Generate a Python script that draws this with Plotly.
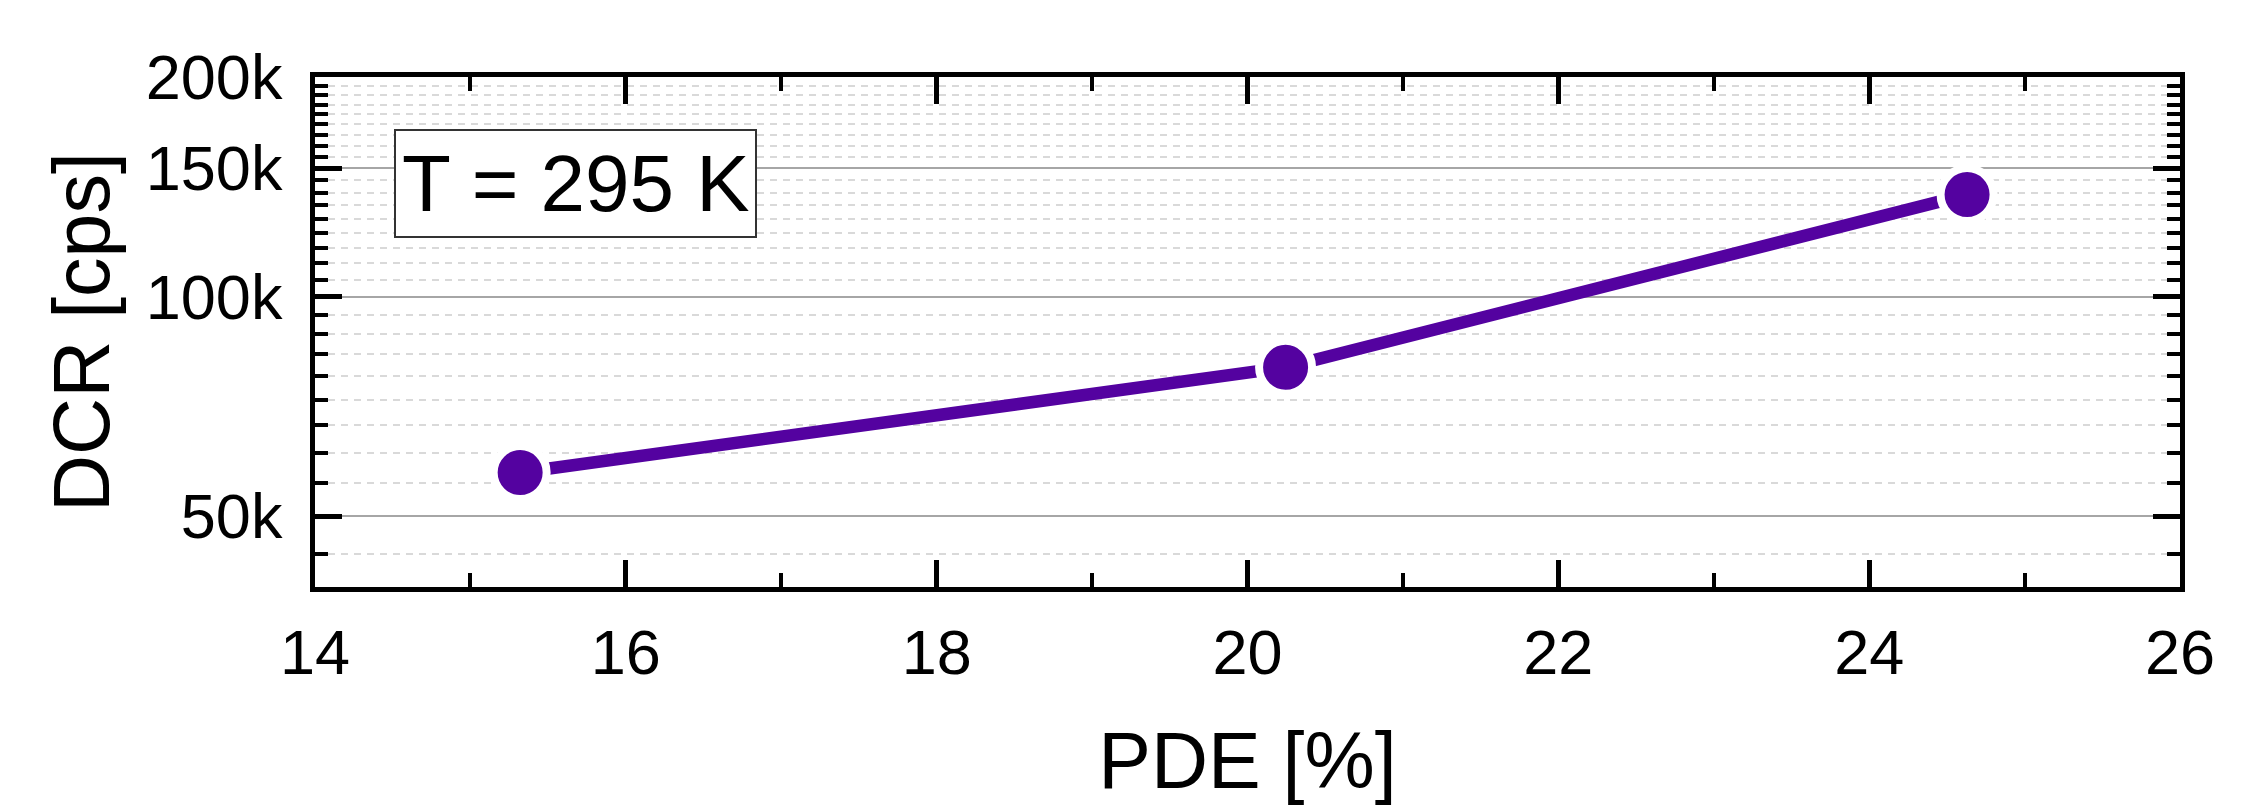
import plotly.graph_objects as go

# Data
pde = [15.32, 20.245, 24.63]
dcr = [57400, 80000, 138000]

x_ticks = [14, 16, 18, 20, 22, 24, 26]
y_ticks = [50000, 100000, 150000, 200000]
y_ticktext = ["50k", "100k", "150k", "200k"]
y_minor_step = 50000 / 9
y_minor = [50000 + i * y_minor_step for i in range(-1, 28) if i % 9 != 0]

FONT = "Liberation Sans, Arial, sans-serif"
COLOR = "#5402A0"

fig = go.Figure()
fig.add_trace(go.Scatter(
    x=pde, y=dcr, mode="lines+markers",
    line=dict(color=COLOR, width=12.5),
    marker=dict(color=COLOR, size=53, line=dict(color="white", width=8)),
    showlegend=False,
))

W, H = 2255, 805
L, R, T, B = 315, 2180, 77, 587

fig.update_layout(
    width=W, height=H,
    margin=dict(l=L, r=W - R, t=T, b=H - B, pad=0, autoexpand=False),
    plot_bgcolor="white", paper_bgcolor="white",
    font=dict(family=FONT, color="black", size=63),
)

fig.update_xaxes(
    automargin=False,
    range=[14, 26], tickvals=x_ticks, ticktext=[str(v) for v in x_ticks],
    ticks="inside", ticklen=27, tickwidth=5, tickcolor="black",
    showline=True, linewidth=5, linecolor="black", mirror="ticks",
    showgrid=False, zeroline=False,
    tickfont=dict(size=63, family=FONT),
    ticklabelstandoff=6,
    minor=dict(dtick=1, tick0=14, ticks="inside", ticklen=14, tickwidth=4,
               tickcolor="black", showgrid=False),
    title=dict(text="PDE [%]", font=dict(size=79, family=FONT), standoff=52),
)

fig.update_yaxes(
    automargin=False,
    type="log", range=[4.60206, 5.30103],
    tickmode="array", tickvals=y_ticks, ticktext=y_ticktext,
    ticks="inside", ticklen=27, tickwidth=5, tickcolor="black",
    showline=True, linewidth=5, linecolor="black", mirror="ticks",
    showgrid=True, gridcolor="#a6a6a6", gridwidth=2, zeroline=False,
    tickfont=dict(size=63, family=FONT),
    ticklabelstandoff=15,
    minor=dict(tickmode="array", tickvals=y_minor, ticks="inside", ticklen=13,
               tickwidth=4, tickcolor="black", showgrid=True,
               gridcolor="#d9d9d9", gridwidth=2, griddash="7px,6px"),
    title=dict(text="DCR [cps]", font=dict(size=79, family=FONT), standoff=12),
)

pw, ph = R - L, B - T
bx0, bx1, by0, by1 = 395, 756, 130, 237
fig.add_shape(type="rect", xref="paper", yref="paper",
              x0=(bx0 - L) / pw, x1=(bx1 - L) / pw,
              y0=(B - by1) / ph, y1=(B - by0) / ph,
              line=dict(color="#333333", width=2), fillcolor="white", layer="above")
fig.add_annotation(xref="paper", yref="paper",
                   x=((bx0 + bx1) / 2 - L) / pw, y=(B - (by0 + by1) / 2) / ph,
                   text="T = 295 K", showarrow=False,
                   font=dict(size=80, family=FONT, color="black"),
                   xanchor="center", yanchor="middle")

fig.write_html("out.html", config={"displayModeBar": False},
               post_script="document.body.style.margin='0px';")
